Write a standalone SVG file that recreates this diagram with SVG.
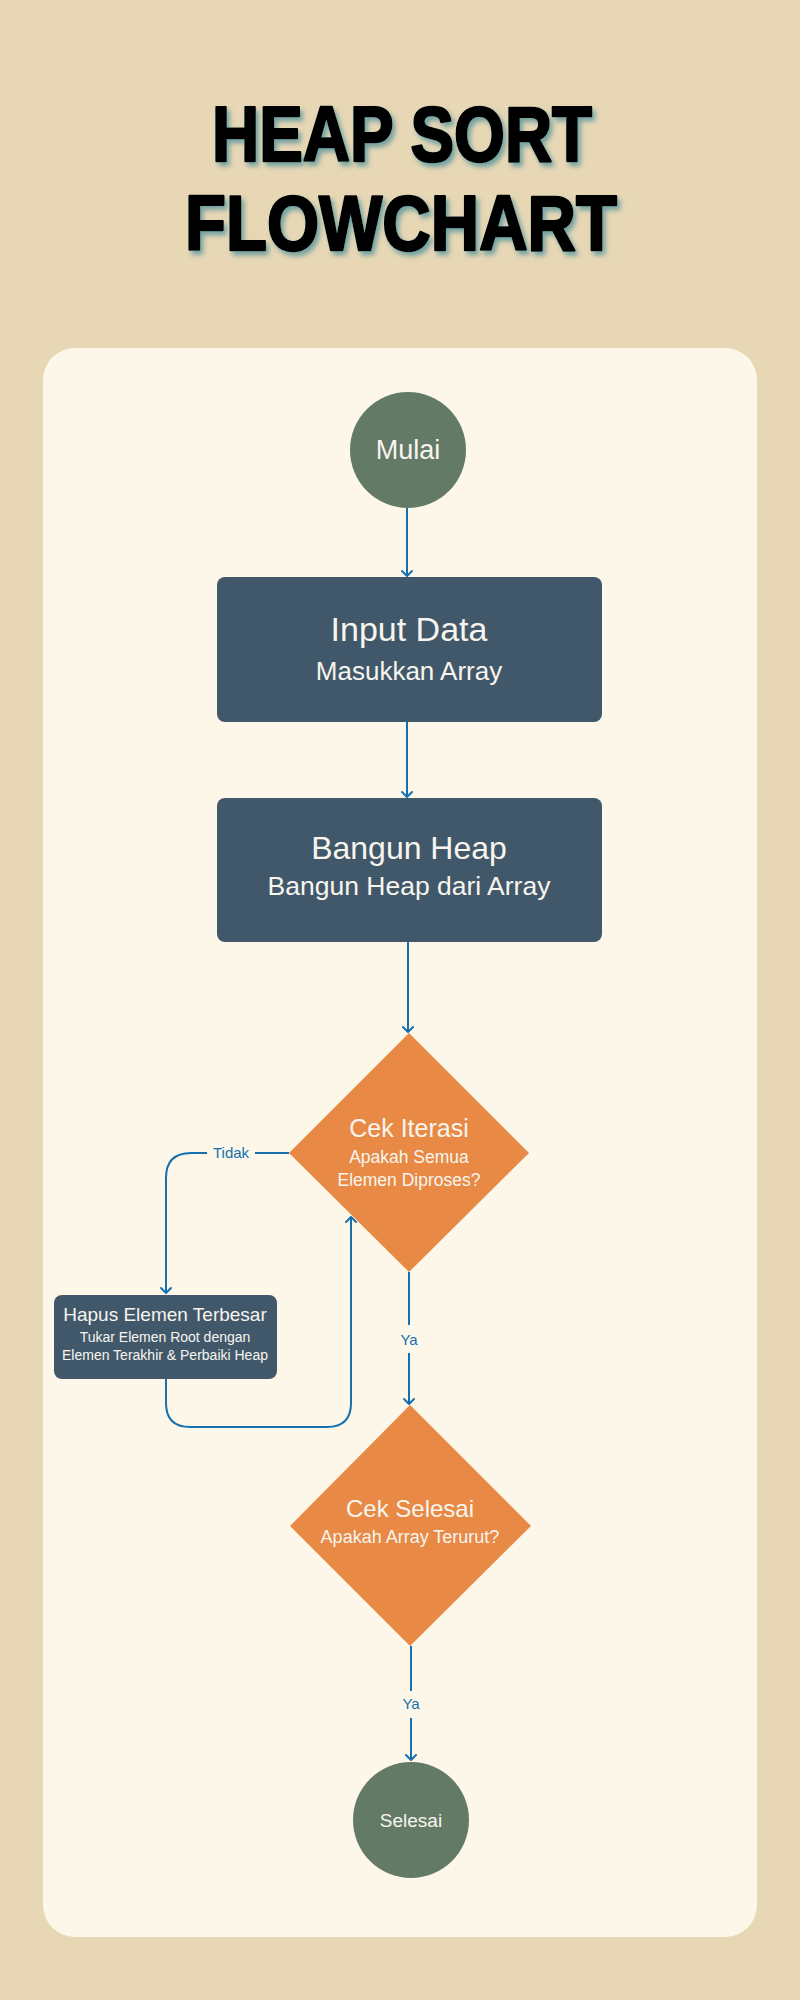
<svg xmlns="http://www.w3.org/2000/svg" width="800" height="2000" viewBox="0 0 800 2000">
<defs>
<style>
.title{font-family:"Liberation Sans",Arial,sans-serif;font-weight:900;font-size:78px;fill:#000;stroke:#000;stroke-width:2.5px;stroke-linejoin:round;text-anchor:middle}
.t{font-family:"Liberation Sans",Arial,sans-serif;fill:#f7f5ee;text-anchor:middle}
.lbl{font-family:"Liberation Sans",Arial,sans-serif;fill:#1570b0;text-anchor:middle;font-size:15px}
.conn{fill:none;stroke:#1570b0;stroke-width:2}
.circ{fill:#637a67}
.box{fill:#41586a}
.dia{fill:#e88a45}
</style>
<filter id="sh" x="-10%" y="-20%" width="120%" height="150%">
<feDropShadow dx="3" dy="4" stdDeviation="2.5" flood-color="#3f8a98" flood-opacity="0.7"/>
</filter>
<marker id="arr" viewBox="-7 -7 10 14" markerWidth="10" markerHeight="14" refX="0" refY="0" orient="auto" markerUnits="userSpaceOnUse" overflow="visible">
<path d="M-5,-5 L0,0 L-5,5" fill="none" stroke="#1570b0" stroke-width="2" stroke-linecap="round" stroke-linejoin="round"/>
</marker>
</defs>
<rect x="0" y="0" width="800" height="2000" fill="#e8d7b5"/>
<g filter="url(#sh)">
<text class="title" x="402" y="161" textLength="380" lengthAdjust="spacingAndGlyphs">HEAP SORT</text>
<text class="title" x="401" y="250" textLength="432" lengthAdjust="spacingAndGlyphs">FLOWCHART</text>
</g>
<rect x="43" y="348" width="714" height="1589" rx="32" fill="#fcf7e8"/>
<g id="connectors">
<line class="conn" x1="407" y1="508" x2="407" y2="576" marker-end="url(#arr)"/>
<line class="conn" x1="407" y1="722" x2="407" y2="797" marker-end="url(#arr)"/>
<line class="conn" x1="408" y1="942" x2="408" y2="1032" marker-end="url(#arr)"/>
<path class="conn" d="M289,1153 H255 M207,1153 H191 Q166,1153 166,1178 V1293" marker-end="url(#arr)"/>
<path class="conn" d="M166,1379 V1403 Q166,1427 190,1427 H327 Q351,1427 351,1403 V1217" marker-end="url(#arr)"/>
<path class="conn" d="M409,1272 V1325 M409,1353 V1404" marker-end="url(#arr)"/>
<path class="conn" d="M411,1646 V1691 M411,1718 V1760" marker-end="url(#arr)"/>
<text class="lbl" x="231" y="1158">Tidak</text>
<text class="lbl" x="409" y="1345">Ya</text>
<text class="lbl" x="411" y="1709">Ya</text>
</g>
<g id="mulai">
<circle class="circ" cx="408" cy="450" r="58"/>
<text class="t" x="408" y="459" font-size="27">Mulai</text>
</g>
<g id="input-data">
<rect class="box" x="217" y="577" width="385" height="145" rx="8"/>
<text class="t" x="409" y="641" font-size="34">Input Data</text>
<text class="t" x="409" y="680" font-size="26">Masukkan Array</text>
</g>
<g id="bangun-heap">
<rect class="box" x="217" y="798" width="385" height="144" rx="8"/>
<text class="t" x="409" y="859" font-size="32">Bangun Heap</text>
<text class="t" x="409" y="895" font-size="26.5">Bangun Heap dari Array</text>
</g>
<g id="cek-iterasi">
<polygon class="dia" points="409,1033 529,1153 409,1272 289,1153"/>
<text class="t" x="409" y="1137" font-size="25">Cek Iterasi</text>
<text class="t" x="409" y="1163" font-size="17.5">Apakah Semua</text>
<text class="t" x="409" y="1186" font-size="17.5">Elemen Diproses?</text>
</g>
<g id="hapus">
<rect class="box" x="54" y="1295" width="223" height="84" rx="8"/>
<text class="t" x="165" y="1321" font-size="19">Hapus Elemen Terbesar</text>
<text class="t" x="165" y="1342" font-size="14">Tukar Elemen Root dengan</text>
<text class="t" x="165" y="1360" font-size="14">Elemen Terakhir &amp; Perbaiki Heap</text>
</g>
<g id="cek-selesai">
<polygon class="dia" points="410,1405 531,1526 410,1646 290,1526"/>
<text class="t" x="410" y="1517" font-size="24">Cek Selesai</text>
<text class="t" x="410" y="1543" font-size="18">Apakah Array Terurut?</text>
</g>
<g id="selesai">
<circle class="circ" cx="411" cy="1820" r="58"/>
<text class="t" x="411" y="1827" font-size="19">Selesai</text>
</g>
</svg>
